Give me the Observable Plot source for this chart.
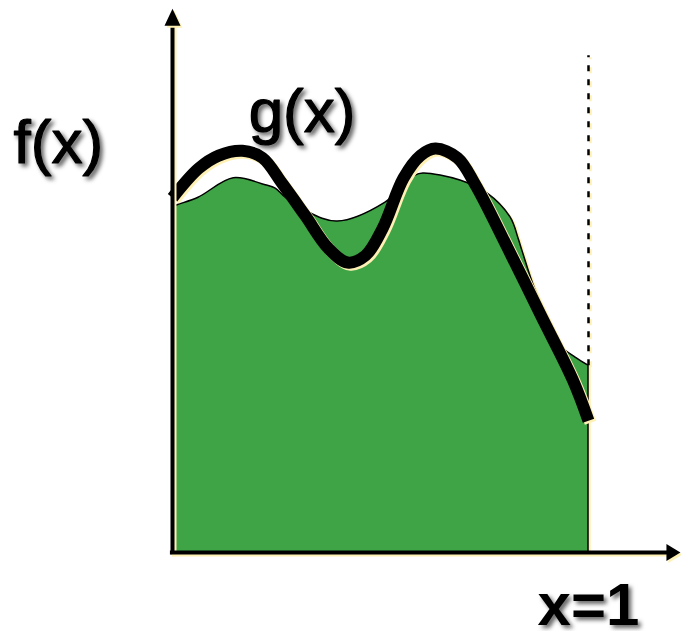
<!DOCTYPE html>
<html>
<head>
<meta charset="utf-8">
<script src="https://cdn.jsdelivr.net/npm/d3@7"></script>
<script src="https://cdn.jsdelivr.net/npm/@observablehq/plot@0.6"></script>
<style>
  html, body { margin: 0; padding: 0; background: #fff; }
  #chart svg { display: block; }
  /* pale yellow offset shadow under the strokes and the filled region */
  #chart g[aria-label="area"],
  #chart g[aria-label="line"],
  #chart g[aria-label="rule"],
  #chart g[aria-label="dot"] {
    filter: drop-shadow(2.5px 2.5px 0 #fff0b4);
  }
  /* soft grey drop shadow behind the labels */
  #chart g[aria-label="text"] {
    filter: drop-shadow(3px 3px 2px rgba(0, 0, 0, 0.6));
  }
</style>
</head>
<body>
<div id="chart"></div>
<script>
// f(x): the filled curve, sampled on [0, 1]
const fX = [0, 0.012, 0.0625, 0.147, 0.224, 0.248, 0.272, 0.319, 0.397, 0.512, 0.584, 0.603,
            0.692, 0.757, 0.813, 0.832, 0.841, 0.873, 0.909, 0.940, 0.969, 1.0];
const fY = [6.39, 6.43, 6.57, 6.93, 6.80, 6.74, 6.57, 6.33, 6.13, 6.48, 6.98, 7.02,
            6.89, 6.65, 6.20, 5.81, 5.59, 4.85, 4.26, 3.78, 3.61, 3.46];

// g(x): the thick approximating curve
const gX = [0, 0.0625, 0.111, 0.168, 0.216, 0.264, 0.319, 0.375, 0.421, 0.464, 0.505, 0.555,
            0.596, 0.632, 0.685, 0.728, 0.805, 0.885, 0.962, 1.0];
const gY = [6.57, 7.11, 7.35, 7.44, 7.31, 6.83, 6.24, 5.63, 5.37, 5.50, 6.00, 6.93,
            7.35, 7.48, 7.31, 6.81, 5.65, 4.40, 3.20, 2.44];

// labels
const labels = [
  {text: "f(x)", x: -0.382, y: 7.22, anchor: "start"},
  {text: "g(x)", x: 0.183, y: 7.78, anchor: "start"},
  {text: "x=1", x: 1.0, y: -1.35, anchor: "middle"}
];

// axis extents and arrow tips
const xEnd = 1.0;          // right boundary of the interval
const dashTop = 9.2;       // top of the dashed boundary line
const yAxisTip = 10.07;
const xAxisTip = 1.221;

const fData = fX.map((x, i) => ({x, y: fY[i]}));
const gData = gX.map((x, i) => ({x, y: gY[i]}));

// filled arrowhead symbols, tip at the anchor point (fixed pixel size)
const arrowUp = {
  draw(context) {
    context.moveTo(0, 0);
    context.lineTo(-8, 17);
    context.lineTo(8, 17);
    context.closePath();
  }
};
const arrowRight = {
  draw(context) {
    context.moveTo(0, 0);
    context.lineTo(-14, -8.5);
    context.lineTo(-14, 8.5);
    context.closePath();
  }
};

const font = "Liberation Sans, Arial, sans-serif";

const chart = Plot.plot({
  width: 681,
  height: 631,
  margin: 0,
  style: {background: "#fff", overflow: "visible"},
  x: {domain: [0, 1], range: [172, 588], axis: null},
  y: {domain: [0, 10], range: [552, 12], axis: null},
  marks: [
    // area under f(x)
    Plot.areaY(fData, {x: "x", y: "y", curve: "catmull-rom", fill: "#3ea446",
                       stroke: "#000", strokeWidth: 1.5, strokeLinejoin: "round"}),
    // g(x)
    Plot.line(gData, {x: "x", y: "y", curve: "catmull-rom", stroke: "#000",
                      strokeWidth: 12, strokeLinecap: "butt", strokeLinejoin: "round"}),
    // dashed boundary at x = 1
    Plot.ruleX([xEnd], {y1: fY[fY.length - 1], y2: dashTop, stroke: "#000",
                        strokeWidth: 2.5, strokeDasharray: "6,8"}),
    // axes
    Plot.ruleX([0], {y1: -0.04, y2: 9.8, stroke: "#000", strokeWidth: 4}),
    Plot.ruleY([0], {x1: -0.005, x2: 1.2, stroke: "#000", strokeWidth: 4}),
    Plot.dot([{x: 0, y: yAxisTip}], {x: "x", y: "y", symbol: arrowUp, fill: "#000", stroke: "none"}),
    Plot.dot([{x: xAxisTip, y: 0}], {x: "x", y: "y", symbol: arrowRight, fill: "#000", stroke: "none"}),
    // labels
    Plot.text(labels.filter(d => d.anchor === "start"), {
      x: "x", y: "y", text: "text", textAnchor: "start", lineAnchor: "bottom",
      fontSize: 62, fontFamily: font, fill: "#000", stroke: "#000", strokeWidth: 1.2
    }),
    Plot.text(labels.filter(d => d.anchor === "middle"), {
      x: "x", y: "y", text: "text", textAnchor: "middle", lineAnchor: "bottom",
      fontSize: 60, fontWeight: "bold", fontFamily: font, fill: "#000"
    })
  ]
});

document.getElementById("chart").appendChild(chart);
</script>
</body>
</html>
